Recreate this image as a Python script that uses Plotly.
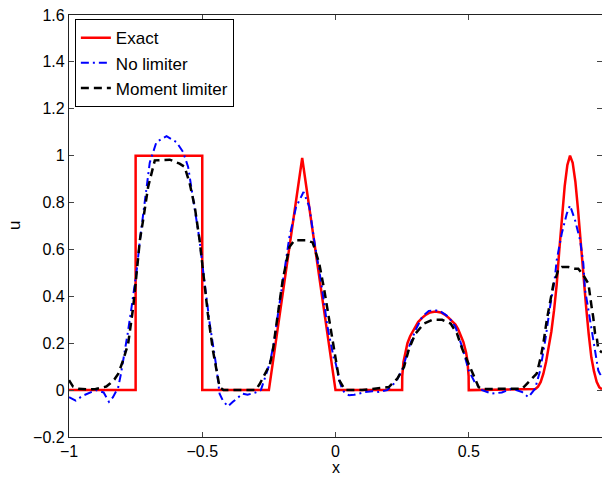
import plotly.graph_objects as go

# ---------------- data ----------------
x_exact = [-1, -0.75, -0.75, -0.5, -0.5, -0.25, -0.125, 0, 0.25, 0.2505, 0.255, 0.26, 0.27, 0.28,
           0.29, 0.30, 0.31, 0.325, 0.34, 0.355, 0.375, 0.395, 0.41, 0.425, 0.44, 0.45, 0.46,
           0.47, 0.48, 0.49, 0.495, 0.4995, 0.5, 0.75, 0.76, 0.77, 0.78, 0.79, 0.80, 0.81, 0.82,
           0.83, 0.84, 0.85, 0.86, 0.87, 0.88, 0.89, 0.90, 0.91, 0.92, 0.93, 0.94, 0.95, 0.96,
           0.97, 0.98, 0.99, 1.0]
u_exact = [0, 0, 1, 1, 0, 0, 0.99, 0, 0, 0.06, 0.12, 0.15, 0.20, 0.23,
           0.25, 0.27, 0.29, 0.308, 0.322, 0.331, 0.335, 0.331, 0.322, 0.308, 0.293, 0.28, 0.26,
           0.235, 0.205, 0.16, 0.125, 0.06, 0, 0.005, 0.015, 0.035, 0.07, 0.12, 0.185, 0.25, 0.34,
           0.45, 0.6, 0.74, 0.87, 0.96, 1.0, 0.97, 0.89, 0.77, 0.62, 0.48, 0.36, 0.24, 0.14,
           0.08, 0.035, 0.012, 0.004]

x_nolim = [-1.0, -0.975, -0.95, -0.92, -0.9, -0.87, -0.85, -0.835, -0.815, -0.805, -0.797, -0.78,
           -0.765, -0.745, -0.734, -0.715, -0.697, -0.672, -0.634, -0.597, -0.572, -0.553, -0.535,
           -0.51, -0.497, -0.472, -0.447, -0.435, -0.423, -0.404, -0.385, -0.365, -0.348, -0.33,
           -0.3, -0.28, -0.267, -0.26, -0.248, -0.242, -0.229, -0.223, -0.198, -0.173, -0.148,
           -0.12, -0.098, -0.08, -0.055, -0.03, -0.005, 0.001, 0.014, 0.026, 0.039, 0.051, 0.07,
           0.089, 0.11, 0.139, 0.163, 0.194, 0.226, 0.25, 0.276, 0.3, 0.325, 0.35, 0.388, 0.425,
           0.45, 0.475, 0.5, 0.525, 0.55, 0.587, 0.624, 0.662, 0.7, 0.724, 0.749, 0.768, 0.787,
           0.805, 0.822, 0.83, 0.849, 0.868, 0.88, 0.899, 0.918, 0.93, 0.936, 0.945, 0.955, 0.965,
           0.974, 0.98, 0.986, 0.992, 1.0]
u_nolim = [-0.03, -0.045, -0.025, -0.008, 0.0, -0.01, -0.05, -0.03, 0.013, 0.07, 0.12, 0.24,
           0.355, 0.52, 0.64, 0.81, 0.97, 1.058, 1.083, 1.058, 1.016, 0.952, 0.824,
           0.64, 0.511, 0.284, 0.099, -0.015, -0.044, -0.069, -0.05, -0.03, -0.015, -0.02,
           -0.01, 0.0, 0.042, 0.07, 0.11, 0.141, 0.212, 0.27, 0.468, 0.653, 0.781,
           0.845, 0.781, 0.639, 0.468, 0.27, 0.127, 0.113, 0.042, 0.0, -0.015, -0.022, -0.02,
           -0.015, -0.008, -0.005, -0.008, 0.0, 0.035, 0.084, 0.184, 0.255, 0.312, 0.338, 0.34, 0.312,
           0.27, 0.184, 0.084, 0.028, 0.0, -0.015, -0.01, 0.006, -0.008, -0.03, 0.006, 0.084, 0.212,
           0.355, 0.468, 0.554, 0.668, 0.753, 0.788, 0.724, 0.639, 0.54, 0.43, 0.37, 0.3, 0.22,
           0.17, 0.127, 0.084, 0.07, 0.056]

x_moment = [-1.0, -0.985, -0.965, -0.93, -0.9, -0.884, -0.86, -0.846, -0.83, -0.815, -0.797, -0.778,
            -0.759, -0.744, -0.734, -0.722, -0.703, -0.678, -0.659, -0.622, -0.585, -0.566, -0.547,
            -0.528, -0.51, -0.497, -0.479, -0.46, -0.441, -0.435, -0.42, -0.3, -0.285, -0.27,
            -0.254, -0.248, -0.235, -0.223, -0.198, -0.173, -0.154, -0.111, -0.086, -0.08, -0.061,
            -0.042, -0.024, -0.011, -0.005, 0.014, 0.036, 0.1, 0.2, 0.232, 0.257, 0.276, 0.3, 0.332,
            0.363, 0.4, 0.432, 0.456, 0.475, 0.5, 0.525, 0.537, 0.55, 0.7, 0.731, 0.755, 0.77, 0.78,
            0.793, 0.805, 0.818, 0.824, 0.837, 0.849, 0.874, 0.899, 0.911, 0.93, 0.942, 0.949, 0.961,
            0.967, 0.974, 0.98, 0.986, 1.0]
u_moment = [0.042, 0.015, 0.006, 0.003, 0.005, 0.008, 0.015, 0.028, 0.045, 0.07, 0.127, 0.198,
            0.355, 0.525, 0.64, 0.724, 0.867, 0.98, 0.982, 0.983, 0.966, 0.952, 0.881,
            0.781, 0.64, 0.497, 0.326, 0.17, 0.042, 0.013, 0.0, 0.0, 0.025, 0.06,
            0.092, 0.1, 0.17, 0.27, 0.47, 0.61, 0.639, 0.639, 0.63, 0.61, 0.54,
            0.426, 0.3, 0.212, 0.17, 0.042, 0.0, 0.0, 0.013, 0.049, 0.099, 0.177, 0.241, 0.284,
            0.3, 0.3, 0.284, 0.241, 0.177, 0.11, 0.042, 0.013, 0.005, 0.006, 0.042, 0.07, 0.14, 0.2,
            0.3, 0.38, 0.454, 0.468, 0.518, 0.525, 0.525, 0.518, 0.518, 0.49, 0.468, 0.454, 0.355,
            0.312, 0.241, 0.227, 0.175, 0.16]

x_ticks = [-1, -0.5, 0, 0.5, 1]
y_ticks = [-0.2, 0, 0.2, 0.4, 0.6, 0.8, 1, 1.2, 1.4, 1.6]
x_label = "x"
y_label = "u"

FONT = "Liberation Sans, Arial, Helvetica, sans-serif"

fig = go.Figure()
fig.add_trace(go.Scatter(x=x_exact, y=u_exact, mode="lines", name="Exact",
                         line=dict(color="#ff0000", width=2.5)))
fig.add_trace(go.Scatter(x=x_nolim, y=u_nolim, mode="lines", name="No limiter",
                         line=dict(color="#0000ff", width=2, dash="8px,4px,2px,4px")))
fig.add_trace(go.Scatter(x=x_moment, y=u_moment, mode="lines", name="Moment limiter",
                         line=dict(color="#000000", width=2.5, dash="8px,5px")))

axis_common = dict(showgrid=False, zeroline=False, showline=True, linecolor="#222222",
                   linewidth=1.2, mirror="ticks", ticks="inside", ticklen=5, automargin=False,
                   tickcolor="#444444", tickfont=dict(family=FONT, size=16, color="#000000"))

fig.update_xaxes(range=[-1, 1], tickvals=x_ticks, **axis_common)
fig.update_yaxes(range=[-0.2, 1.6], tickvals=y_ticks, **axis_common)

# axis titles as annotations for exact placement
fig.add_annotation(text=x_label, xref="paper", x=0.5, yref="paper", y=0, yanchor="bottom",
                   yshift=-40, borderpad=0, showarrow=False,
                   font=dict(family=FONT, size=16, color="#000000"))
fig.add_annotation(text=y_label, xref="paper", x=0, yref="paper", y=0.5, xanchor="center",
                   xshift=-55, textangle=-90, showarrow=False,
                   font=dict(family=FONT, size=17, color="#000000"))

fig.update_layout(
    width=602, height=477, autosize=False,
    margin=dict(l=69, r=0, t=15, b=40),
    plot_bgcolor="white", paper_bgcolor="white",
    font=dict(family=FONT, size=17, color="#000000"),
    legend=dict(x=0.011, y=0.99, xanchor="left", yanchor="top",
                bgcolor="white", bordercolor="#000000", borderwidth=1,
                font=dict(family=FONT, size=17, color="#000000"),
                tracegroupgap=0, itemwidth=30),
)

fig.write_html("out.html", config={"responsive": False, "displayModeBar": False},
               post_script="document.body.style.margin='0';document.body.style.padding='0';")
